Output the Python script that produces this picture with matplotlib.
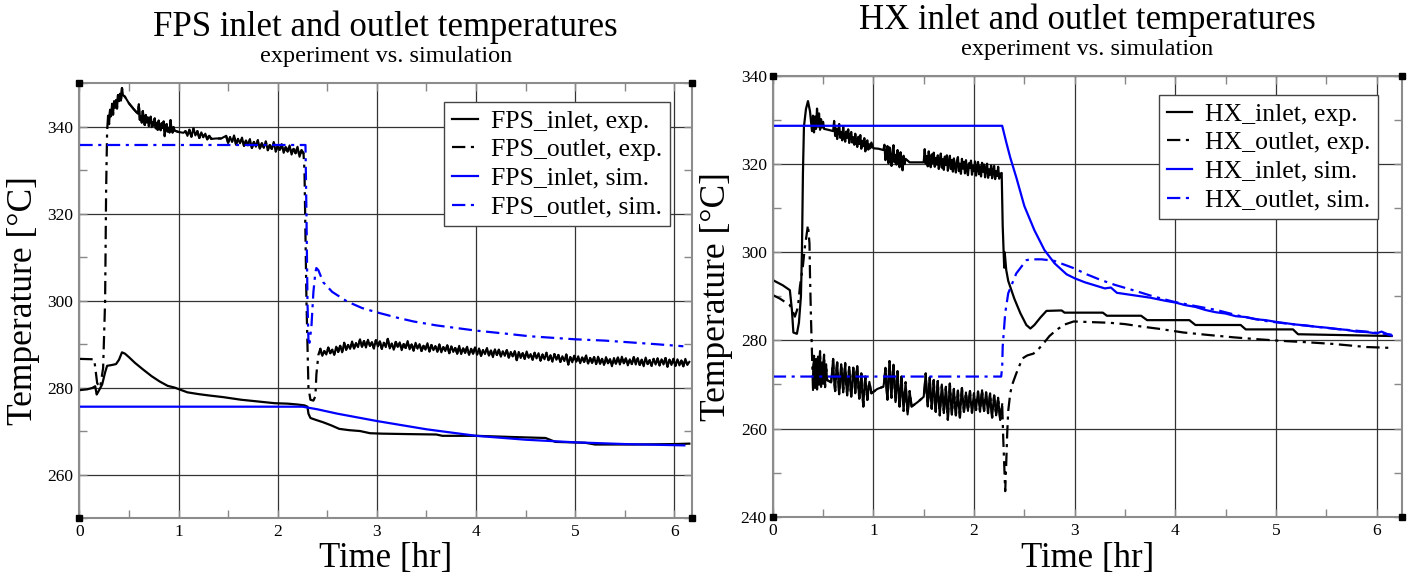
import numpy as np
import matplotlib
matplotlib.use("Agg")
import matplotlib.pyplot as plt
from matplotlib.ticker import MultipleLocator

plt.rcParams['font.family'] = ['Liberation Serif', 'DejaVu Serif']

# ---- FPS panel data: [time hr, temperature C] ----
fps_inlet_exp = np.array([
    [0.00, 279.4], [0.08, 279.6], [0.13, 279.9], [0.16, 280.3], [0.175, 278.4], [0.19, 279.0],
    [0.23, 280.7], [0.26, 283.5], [0.28, 285.0], [0.33, 285.2], [0.37, 285.4], [0.40, 286.4],
    [0.43, 288.1], [0.46, 287.8], [0.50, 287.0], [0.56, 285.7], [0.64, 284.2], [0.73, 282.6],
    [0.81, 281.4], [0.89, 280.4], [0.96, 280.0], [1.09, 278.9], [1.20, 278.5], [1.30, 278.2],
    [1.45, 277.8], [1.63, 277.2], [1.80, 276.8], [1.97, 276.4], [2.10, 276.3], [2.20, 276.1],
    [2.27, 275.9], [2.30, 275.6], [2.31, 274.0], [2.33, 273.0], [2.38, 272.6], [2.46, 272.0],
    [2.54, 271.3], [2.62, 270.5], [2.72, 270.2], [2.83, 270.0], [2.93, 269.5], [3.05, 269.4],
    [3.30, 269.3], [3.60, 269.2], [3.66, 268.9], [4.00, 268.9], [4.40, 268.6], [4.70, 268.4],
    [4.80, 267.5], [5.10, 267.3], [5.20, 266.9], [5.60, 266.9], [6.00, 267.0], [6.15, 267.1],
])

fps_outlet_exp = np.array([
    [0.00, 286.6], [0.15, 286.5], [0.18, 281.0], [0.21, 280.0], [0.24, 284.5], [0.26, 300.0],
    [0.27, 325.0], [0.28, 339.0],
    [0.29, 342.5], [0.30, 340.6], [0.31, 343.9], [0.32, 342.4], [0.33, 345.3], [0.34, 342.8],
    [0.35, 345.9], [0.36, 344.4], [0.37, 346.1], [0.38, 344.2], [0.39, 347.3], [0.40, 345.9],
    [0.41, 347.6], [0.42, 346.0], [0.43, 348.9], [0.44, 347.3],
    [0.46, 346.9], [0.50, 345.4], [0.55, 344.0], [0.59, 343.0],
    [0.60, 345.2], [0.61, 341.6], [0.62, 342.4], [0.63, 340.9], [0.64, 343.6], [0.65, 341.3],
    [0.66, 340.4], [0.67, 342.7], [0.68, 341.0], [0.69, 342.2], [0.70, 340.1], [0.71, 341.5],
    [0.72, 342.3], [0.73, 339.9], [0.74, 341.1], [0.75, 340.2], [0.76, 341.9], [0.77, 339.6],
    [0.78, 340.9], [0.79, 339.3], [0.80, 341.4], [0.81, 340.0], [0.82, 339.2], [0.83, 340.8],
    [0.84, 339.7], [0.85, 341.2], [0.86, 337.8], [0.87, 340.1], [0.88, 340.6], [0.89, 338.9],
    [0.90, 339.8], [0.91, 338.7], [0.92, 341.5], [0.93, 339.4], [0.94, 338.6], [0.95, 339.9],
    [0.96, 339.1], [1.00, 338.8], [1.05, 338.6],
    [1.07, 339.0], [1.09, 337.9], [1.11, 339.3], [1.13, 337.7], [1.15, 339.6], [1.17, 338.0],
    [1.19, 339.0], [1.21, 337.4], [1.23, 338.7], [1.25, 337.6], [1.27, 338.4], [1.29, 337.1],
    [1.31, 337.9], [1.33, 337.2], [1.38, 337.3], [1.43, 337.3],
    [1.48, 337.9], [1.50, 336.3], [1.52, 337.6], [1.54, 336.5], [1.56, 338.0], [1.58, 335.9],
    [1.60, 337.2], [1.62, 336.2], [1.64, 337.5], [1.66, 335.6], [1.68, 336.8], [1.70, 335.7],
    [1.72, 337.1], [1.74, 335.1], [1.76, 336.5], [1.78, 335.4], [1.80, 336.9], [1.82, 335.0],
    [1.84, 336.2], [1.86, 335.2], [1.88, 336.6], [1.90, 334.6], [1.92, 335.8], [1.94, 334.9],
    [1.96, 336.5], [1.98, 334.3], [2.00, 335.6], [2.02, 334.7], [2.04, 336.0], [2.06, 334.0],
    [2.08, 335.3], [2.10, 334.3], [2.12, 335.7], [2.14, 333.6], [2.16, 334.9], [2.18, 333.9],
    [2.20, 335.4], [2.22, 333.1], [2.24, 334.6], [2.26, 333.9],
    [2.27, 330.0], [2.28, 315.0], [2.29, 300.0], [2.30, 290.0], [2.31, 280.0], [2.33, 277.2],
    [2.36, 277.0], [2.38, 278.0], [2.39, 283.0], [2.41, 287.5],
    [2.43, 288.9], [2.45, 287.3], [2.47, 288.4], [2.49, 287.6], [2.51, 289.2], [2.53, 287.9],
    [2.55, 288.7], [2.57, 287.5], [2.59, 289.4], [2.61, 288.2], [2.63, 289.6], [2.65, 288.1],
    [2.67, 290.3], [2.69, 288.7], [2.71, 289.8], [2.73, 288.9], [2.75, 290.6], [2.77, 289.0],
    [2.79, 290.2], [2.81, 289.3], [2.83, 291.1], [2.85, 289.4], [2.87, 290.7], [2.89, 289.2],
    [2.91, 291.0], [2.93, 289.6], [2.95, 290.4], [2.97, 289.0], [2.99, 290.9], [3.01, 289.5],
    [3.03, 290.6], [3.05, 288.9], [3.07, 290.3], [3.09, 289.3], [3.11, 291.2], [3.13, 289.0],
    [3.15, 290.1], [3.17, 288.7], [3.19, 290.5], [3.21, 289.4], [3.23, 290.4], [3.25, 288.6],
    [3.27, 290.0], [3.29, 289.1], [3.31, 290.7], [3.33, 288.8], [3.35, 289.9], [3.37, 288.5],
    [3.39, 290.3], [3.41, 289.0], [3.43, 290.0], [3.45, 288.4], [3.47, 289.6], [3.49, 288.7],
    [3.51, 290.2], [3.53, 288.3], [3.55, 289.8], [3.57, 288.6], [3.59, 289.5], [3.61, 288.2],
    [3.63, 289.9], [3.65, 288.1], [3.67, 289.3], [3.69, 288.4], [3.71, 289.7], [3.73, 287.9],
    [3.75, 289.5], [3.77, 288.2], [3.79, 289.1], [3.81, 287.8], [3.83, 289.6], [3.85, 287.7],
    [3.87, 289.0], [3.89, 288.0], [3.91, 289.4], [3.93, 287.5], [3.95, 288.9], [3.97, 287.8],
    [3.99, 289.2], [4.01, 287.6], [4.03, 289.0], [4.05, 287.3], [4.07, 288.6], [4.09, 287.7],
    [4.11, 289.1], [4.13, 287.4], [4.15, 288.5], [4.17, 287.0], [4.19, 288.8], [4.21, 287.5],
    [4.23, 288.7], [4.25, 287.1], [4.27, 288.3], [4.29, 287.3], [4.31, 288.6], [4.33, 286.9],
    [4.35, 288.2], [4.37, 287.2], [4.39, 288.4], [4.41, 286.3], [4.43, 288.2], [4.45, 286.8],
    [4.47, 287.9], [4.49, 286.6], [4.51, 288.3], [4.53, 286.9], [4.55, 287.7], [4.57, 286.4],
    [4.59, 288.0], [4.61, 286.7], [4.63, 287.9], [4.65, 286.2], [4.67, 287.6], [4.69, 286.5],
    [4.71, 288.0], [4.73, 286.3], [4.75, 287.4], [4.77, 286.0], [4.79, 287.7], [4.81, 286.4],
    [4.83, 287.5], [4.85, 285.9], [4.87, 287.2], [4.89, 286.1], [4.91, 287.6], [4.93, 285.3],
    [4.95, 287.0], [4.97, 285.8], [4.99, 287.3], [5.01, 286.0], [5.03, 287.2], [5.05, 285.6],
    [5.07, 286.9], [5.09, 285.9], [5.11, 287.4], [5.13, 285.5], [5.15, 286.8], [5.17, 285.7],
    [5.19, 287.0], [5.21, 285.4], [5.23, 287.1], [5.25, 285.5], [5.27, 286.6], [5.29, 285.2],
    [5.31, 287.0], [5.33, 285.6], [5.35, 286.5], [5.37, 284.9], [5.39, 286.8], [5.41, 285.5],
    [5.43, 286.9], [5.45, 285.3], [5.47, 287.1], [5.49, 285.6], [5.51, 286.7], [5.53, 285.1],
    [5.55, 286.5], [5.57, 285.4], [5.59, 287.0], [5.61, 285.3], [5.63, 286.8], [5.65, 285.2],
    [5.67, 286.4], [5.69, 284.9], [5.71, 286.9], [5.73, 285.4], [5.75, 286.3], [5.77, 285.0],
    [5.79, 286.6], [5.81, 285.3], [5.83, 286.7], [5.85, 285.1], [5.87, 286.5], [5.89, 285.3],
    [5.91, 286.8], [5.93, 284.8], [5.95, 286.4], [5.97, 285.2], [5.99, 286.6], [6.01, 285.0],
    [6.03, 286.5], [6.05, 285.1], [6.07, 286.2], [6.09, 284.9], [6.11, 286.6], [6.13, 285.2],
    [6.15, 285.9],
])

fps_inlet_sim = np.array([
    [0.00, 275.6], [2.25, 275.6], [2.40, 275.0], [2.60, 274.0], [3.00, 272.3], [3.50, 270.4],
    [4.00, 268.9], [4.50, 268.0], [5.00, 267.4], [5.50, 267.0], [6.10, 266.7],
])

fps_outlet_sim = np.array([
    [0.00, 335.8], [2.28, 335.8], [2.29, 320.0], [2.30, 300.0], [2.31, 291.0], [2.32, 290.3],
    [2.34, 294.0], [2.36, 302.0], [2.38, 306.5], [2.39, 307.5], [2.41, 307.0], [2.46, 304.2],
    [2.55, 302.0], [2.70, 299.8], [2.85, 298.3], [3.00, 297.3], [3.20, 296.1], [3.37, 295.2],
    [3.60, 294.3], [4.00, 293.1], [4.30, 292.4], [4.54, 291.8], [5.00, 291.1], [5.30, 290.8],
    [5.55, 290.4], [5.80, 290.0], [6.09, 289.5],
])

# ---- HX panel data ----
hx_inlet_exp = np.array([
    [0.00, 293.7], [0.10, 292.5], [0.17, 291.4], [0.19, 287.0], [0.205, 281.8], [0.24, 281.5],
    [0.26, 284.0], [0.28, 290.0], [0.29, 300.0], [0.30, 318.0], [0.31, 328.5], [0.33, 332.5],
    [0.35, 334.3], [0.37, 332.0], [0.39, 327.5],
    [0.40, 331.0], [0.41, 327.2], [0.42, 330.8], [0.43, 328.0], [0.44, 332.6], [0.45, 328.5],
    [0.46, 331.5], [0.47, 327.8], [0.48, 330.2], [0.49, 328.3], [0.50, 329.6], [0.51, 328.0],
    [0.55, 327.8], [0.60, 327.5],
    [0.61, 329.8], [0.62, 326.4], [0.63, 328.1], [0.64, 325.7], [0.65, 327.6], [0.66, 329.1],
    [0.67, 326.0], [0.68, 327.3], [0.69, 325.4], [0.70, 328.5], [0.71, 326.2], [0.72, 325.1],
    [0.73, 327.4], [0.74, 326.0], [0.75, 327.9], [0.76, 324.8], [0.77, 326.5], [0.78, 327.3],
    [0.79, 324.9], [0.80, 326.1], [0.81, 324.4], [0.82, 326.9], [0.83, 325.0], [0.84, 323.9],
    [0.85, 326.2], [0.86, 324.6], [0.87, 326.6], [0.88, 323.5], [0.89, 325.3], [0.90, 324.1],
    [0.91, 325.9], [0.92, 322.9], [0.93, 324.8], [0.94, 325.4], [0.95, 323.3], [0.96, 324.5],
    [0.97, 323.6], [0.98, 324.9], [1.00, 323.6], [1.05, 323.5], [1.10, 323.2],
    [1.11, 324.4], [1.12, 320.9], [1.13, 322.6], [1.14, 324.1], [1.15, 320.2], [1.16, 323.8],
    [1.17, 321.5], [1.18, 319.6], [1.19, 323.0], [1.20, 324.3], [1.21, 320.4], [1.22, 322.1],
    [1.23, 319.9], [1.24, 323.2], [1.25, 321.0], [1.26, 319.3], [1.27, 322.7], [1.28, 320.5],
    [1.29, 318.6], [1.30, 321.9], [1.31, 320.0], [1.32, 321.2],
    [1.36, 320.4], [1.50, 320.4],
    [1.51, 323.4], [1.52, 320.1], [1.53, 321.8], [1.54, 319.5], [1.55, 322.9], [1.56, 320.6],
    [1.57, 319.3], [1.58, 322.2], [1.59, 320.3], [1.60, 322.6], [1.61, 319.4], [1.62, 321.4],
    [1.63, 319.9], [1.64, 322.0], [1.65, 318.9], [1.66, 320.8], [1.67, 322.4], [1.68, 319.2],
    [1.69, 321.1], [1.70, 318.7], [1.71, 321.7], [1.72, 319.8], [1.73, 322.0], [1.74, 318.5],
    [1.75, 320.4], [1.76, 321.9], [1.77, 318.9], [1.78, 320.9], [1.79, 318.3], [1.80, 321.3],
    [1.81, 319.5], [1.82, 318.1], [1.83, 320.7], [1.84, 321.6], [1.85, 318.4], [1.86, 320.1],
    [1.87, 317.8], [1.88, 321.2], [1.89, 319.0], [1.90, 320.5], [1.91, 317.9], [1.92, 320.9],
    [1.93, 318.6], [1.94, 317.5], [1.95, 320.2], [1.96, 319.1], [1.97, 320.8], [1.98, 317.6],
    [1.99, 319.6], [2.00, 318.4], [2.01, 320.6], [2.02, 317.4], [2.03, 319.2], [2.04, 320.5],
    [2.05, 317.7], [2.06, 319.5], [2.07, 317.2], [2.08, 320.3], [2.09, 318.3], [2.10, 319.9],
    [2.11, 317.0], [2.12, 319.0], [2.13, 320.1], [2.14, 316.9], [2.15, 318.8], [2.16, 317.6],
    [2.17, 319.7], [2.18, 316.8], [2.19, 318.5], [2.20, 319.6], [2.21, 316.6], [2.22, 318.4],
    [2.23, 317.3], [2.24, 319.4], [2.25, 316.7], [2.26, 317.8],
    [2.275, 318.0], [2.285, 306.0], [2.295, 299.5], [2.30, 296.5], [2.305, 300.0], [2.32, 296.0],
    [2.34, 293.5], [2.40, 289.5], [2.46, 286.2], [2.52, 283.5], [2.56, 282.7], [2.60, 283.5],
    [2.66, 285.2], [2.72, 286.7], [2.87, 286.8], [2.90, 286.3], [3.28, 286.3], [3.32, 285.6],
    [3.66, 285.6], [3.72, 284.6], [4.14, 284.6], [4.20, 283.5], [4.65, 283.5], [4.70, 282.5],
    [5.17, 282.5], [5.22, 281.4], [6.15, 281.0],
])

hx_outlet_exp = np.array([
    [0.00, 290.3], [0.07, 289.5], [0.17, 288.0], [0.20, 286.5], [0.22, 285.4], [0.25, 287.5],
    [0.27, 292.2], [0.30, 297.0], [0.32, 301.3], [0.35, 306.2], [0.365, 302.0], [0.37, 295.0],
    [0.38, 285.0], [0.39, 277.0],
    [0.40, 268.8], [0.405, 274.2], [0.41, 276.5], [0.415, 270.4], [0.42, 269.2], [0.425, 273.9],
    [0.43, 275.8], [0.435, 271.2], [0.44, 268.9], [0.445, 272.8], [0.45, 276.3], [0.455, 271.6],
    [0.46, 270.0], [0.465, 274.1], [0.47, 277.6], [0.475, 272.3], [0.48, 269.5], [0.485, 273.5],
    [0.49, 275.0], [0.495, 270.8], [0.50, 270.2], [0.505, 274.6], [0.51, 276.8], [0.515, 271.7],
    [0.52, 269.4], [0.525, 272.9], [0.53, 274.6], [0.54, 271.0], [0.58, 270.5],
    [0.60, 275.8], [0.61, 270.9], [0.62, 268.5], [0.63, 272.6], [0.64, 275.0], [0.65, 271.2],
    [0.66, 267.8], [0.67, 270.3], [0.68, 274.6], [0.69, 272.0], [0.70, 268.2], [0.71, 271.8],
    [0.72, 274.9], [0.73, 270.1], [0.74, 267.5], [0.75, 271.5], [0.76, 274.0], [0.77, 269.8],
    [0.78, 267.2], [0.79, 270.7], [0.80, 273.8], [0.81, 271.1], [0.82, 268.0], [0.83, 272.3],
    [0.84, 274.2], [0.85, 269.5], [0.86, 266.8], [0.87, 269.9], [0.88, 272.5], [0.89, 268.1],
    [0.90, 265.0], [0.91, 268.8], [0.92, 271.8], [0.93, 269.0], [0.94, 266.5], [0.95, 268.7],
    [0.96, 270.6], [0.98, 268.0], [1.04, 269.0], [1.10, 269.5],
    [1.11, 271.2], [1.12, 273.8], [1.13, 269.3], [1.14, 266.5], [1.15, 270.8], [1.16, 275.3],
    [1.17, 271.0], [1.18, 267.0], [1.19, 271.6], [1.20, 274.5], [1.21, 269.9], [1.22, 266.0],
    [1.23, 269.7], [1.24, 273.0], [1.25, 268.4], [1.26, 265.0], [1.27, 268.9], [1.28, 271.8],
    [1.29, 267.6], [1.30, 264.0], [1.31, 267.3], [1.32, 270.5], [1.33, 266.6], [1.34, 263.2],
    [1.35, 266.0], [1.36, 268.5], [1.38, 265.0], [1.44, 266.0], [1.50, 267.2],
    [1.51, 269.6], [1.52, 272.5], [1.53, 268.0], [1.54, 265.0], [1.55, 268.8], [1.56, 271.6],
    [1.57, 267.2], [1.58, 264.5], [1.59, 268.3], [1.60, 271.0], [1.61, 266.4], [1.62, 263.8],
    [1.63, 267.9], [1.64, 270.8], [1.65, 266.1], [1.66, 263.0], [1.67, 266.7], [1.68, 270.0],
    [1.69, 266.9], [1.70, 263.5], [1.71, 266.2], [1.72, 269.5], [1.73, 265.4], [1.74, 262.0],
    [1.75, 266.5], [1.76, 270.2], [1.77, 266.6], [1.78, 263.2], [1.79, 266.0], [1.80, 269.0],
    [1.81, 265.8], [1.82, 263.0], [1.83, 265.9], [1.84, 268.6], [1.85, 265.1], [1.86, 262.5],
    [1.87, 266.4], [1.88, 269.2], [1.89, 266.3], [1.90, 263.8], [1.91, 266.0], [1.92, 268.2],
    [1.93, 265.9], [1.94, 264.0], [1.95, 266.4], [1.96, 268.5], [1.97, 265.6], [1.98, 263.6],
    [1.99, 266.1], [2.00, 268.0], [2.01, 265.8], [2.02, 264.2], [2.03, 266.6], [2.04, 268.4],
    [2.05, 265.7], [2.06, 263.8], [2.07, 266.5], [2.08, 268.7], [2.09, 266.1], [2.10, 264.0],
    [2.11, 266.3], [2.12, 268.2], [2.13, 265.4], [2.14, 263.5], [2.15, 265.9], [2.16, 268.0],
    [2.17, 265.0], [2.18, 262.5], [2.19, 265.3], [2.20, 267.5], [2.21, 265.1], [2.22, 263.0],
    [2.23, 265.2], [2.24, 267.0], [2.25, 264.3], [2.26, 262.0], [2.28, 265.5],
    [2.29, 258.0], [2.30, 252.0], [2.31, 245.8], [2.32, 252.0], [2.33, 259.0], [2.34, 264.0],
    [2.36, 268.0], [2.38, 270.0], [2.42, 272.5], [2.48, 275.9], [2.53, 276.6], [2.59, 277.0],
    [2.64, 278.0], [2.69, 279.3], [2.75, 281.0], [2.82, 282.4], [2.90, 283.6], [2.99, 284.3],
    [3.35, 284.0], [3.50, 283.7], [3.68, 283.1], [3.85, 282.6], [4.08, 281.8], [4.30, 281.3],
    [4.58, 280.7], [4.80, 280.3], [5.05, 279.9], [5.30, 279.6], [5.57, 279.2], [5.76, 278.8],
    [5.90, 278.5], [6.15, 278.3],
])

hx_inlet_sim = np.array([
    [0.00, 328.7], [2.28, 328.7], [2.32, 325.0], [2.36, 321.5], [2.42, 317.0], [2.50, 310.5],
    [2.60, 305.0], [2.70, 300.5], [2.80, 297.5], [2.92, 295.0], [3.00, 294.1], [3.10, 293.2],
    [3.20, 292.5], [3.30, 291.8], [3.36, 292.0], [3.42, 290.8], [3.60, 290.2], [3.75, 289.7],
    [3.90, 289.0], [4.00, 288.6], [4.10, 288.0], [4.20, 287.6], [4.30, 286.9], [4.40, 286.4],
    [4.50, 286.1], [4.60, 285.5], [4.70, 285.3], [4.80, 284.8], [4.90, 284.6], [5.00, 284.2],
    [5.10, 283.9], [5.20, 283.6], [5.30, 283.4], [5.40, 283.1], [5.50, 282.9], [5.60, 282.6],
    [5.70, 282.4], [5.80, 282.0], [5.90, 281.9], [6.00, 281.6], [6.05, 282.0], [6.10, 281.5],
    [6.15, 281.1],
])

hx_outlet_sim = np.array([
    [0.00, 271.8], [2.27, 271.8], [2.28, 274.0], [2.285, 278.6], [2.31, 286.2], [2.34, 290.7],
    [2.42, 295.2], [2.52, 298.2], [2.56, 298.4], [2.67, 298.4], [2.79, 298.1], [2.92, 297.0],
    [2.99, 296.4], [3.12, 295.0], [3.25, 293.8], [3.40, 292.6], [3.58, 291.4], [3.78, 290.0],
    [3.98, 288.8], [4.20, 287.8], [4.41, 286.9], [4.65, 285.5], [4.90, 284.4], [5.15, 283.7],
    [5.40, 283.1], [5.65, 282.5], [5.90, 282.0], [6.15, 281.3],
])

# time windows where the measured outlet trace is so noisy it reads as a solid band
fps_outlet_noisy = [(0.285, 2.265), (2.425, 6.2)]
hx_outlet_noisy = [(0.395, 2.285)]

DASHDOT = (0, (6, 2.5, 1.4, 2.5))
LW = 1.6


def style_axes(ax, ylim, xmax):
    ax.set_xlim(0, xmax)
    ax.set_ylim(*ylim)
    ax.xaxis.set_major_locator(MultipleLocator(1))
    ax.xaxis.set_minor_locator(MultipleLocator(0.5))
    ax.yaxis.set_major_locator(MultipleLocator(20))
    ax.yaxis.set_minor_locator(MultipleLocator(10))
    ax.grid(True, which='major', color='#333333', lw=0.9)
    ax.tick_params(which='both', direction='in', top=True, right=True,
                   color='#888888', width=1.0, length=6, labelsize=12.5)
    ax.tick_params(axis='x', pad=4.5)
    ax.tick_params(axis='y', pad=4.3)
    for sp in ax.spines.values():
        sp.set_color('#8c8c8c')
        sp.set_linewidth(1.5)
    ax.plot([0, 1, 0, 1], [0, 0, 1, 1], 's', ms=4, color='k',
            transform=ax.transAxes, clip_on=False, zorder=5)


def draw_panel(ax, prefix, inlet_exp, outlet_exp, inlet_sim, outlet_sim, noisy):
    ax.plot(inlet_exp[:, 0], inlet_exp[:, 1], color='k', lw=LW, label=prefix + '_inlet, exp.')
    ax.plot(outlet_exp[:, 0], outlet_exp[:, 1], color='k', lw=LW, ls=DASHDOT,
            label=prefix + '_outlet, exp.')
    # dense noise hides the dash pattern in the original
    for t0, t1 in noisy:
        m = (outlet_exp[:, 0] >= t0) & (outlet_exp[:, 0] <= t1)
        ax.plot(outlet_exp[m, 0], outlet_exp[m, 1], color='k', lw=1.5)
    ax.plot(inlet_sim[:, 0], inlet_sim[:, 1], color='#0000ff', lw=LW, label=prefix + '_inlet, sim.')
    ax.plot(outlet_sim[:, 0], outlet_sim[:, 1], color='#0000ff', lw=LW, ls=DASHDOT,
            label=prefix + '_outlet, sim.')
    leg = ax.legend(loc='upper right', bbox_to_anchor=(0.963, 0.957), borderaxespad=0,
                    fontsize=18.5, fancybox=False, edgecolor='#444444', framealpha=1,
                    borderpad=0.3, labelspacing=0.22, handlelength=1.0, handletextpad=0.5)
    leg.get_frame().set_linewidth(1.0)


fig = plt.figure(figsize=(14.14, 5.77), dpi=100)
ax1 = fig.add_axes([0.0561, 0.1023, 0.4335, 0.7534])
ax2 = fig.add_axes([0.5465, 0.1045, 0.4448, 0.7638])

draw_panel(ax1, 'FPS', fps_inlet_exp, fps_outlet_exp, fps_inlet_sim, fps_outlet_sim, fps_outlet_noisy)
style_axes(ax1, (250, 350), 6.18)
draw_panel(ax2, 'HX', hx_inlet_exp, hx_outlet_exp, hx_inlet_sim, hx_outlet_sim, hx_outlet_noisy)
style_axes(ax2, (240, 340), 6.25)

for ax, ly, lx in [(ax1, -0.055, -0.064), (ax2, -0.057, -0.063)]:
    ax.set_xlabel('Time [hr]', fontsize=25)
    ax.set_ylabel('Temperature [°C]', fontsize=25.5)
    ax.xaxis.set_label_coords(0.5, ly)
    ax.yaxis.set_label_coords(lx, 0.5)

fig.text(0.2728, 1 - 36 / 577, 'FPS inlet and outlet temperatures', fontsize=25,
         ha='center', va='baseline')
fig.text(0.2728, 1 - 62 / 577, 'experiment vs. simulation', fontsize=17.5,
         ha='center', va='baseline')
fig.text(0.7687, 1 - 29 / 577, 'HX inlet and outlet temperatures', fontsize=25,
         ha='center', va='baseline')
fig.text(0.7687, 1 - 55 / 577, 'experiment vs. simulation', fontsize=17.5,
         ha='center', va='baseline')

fig.savefig('out.png', dpi=100)
